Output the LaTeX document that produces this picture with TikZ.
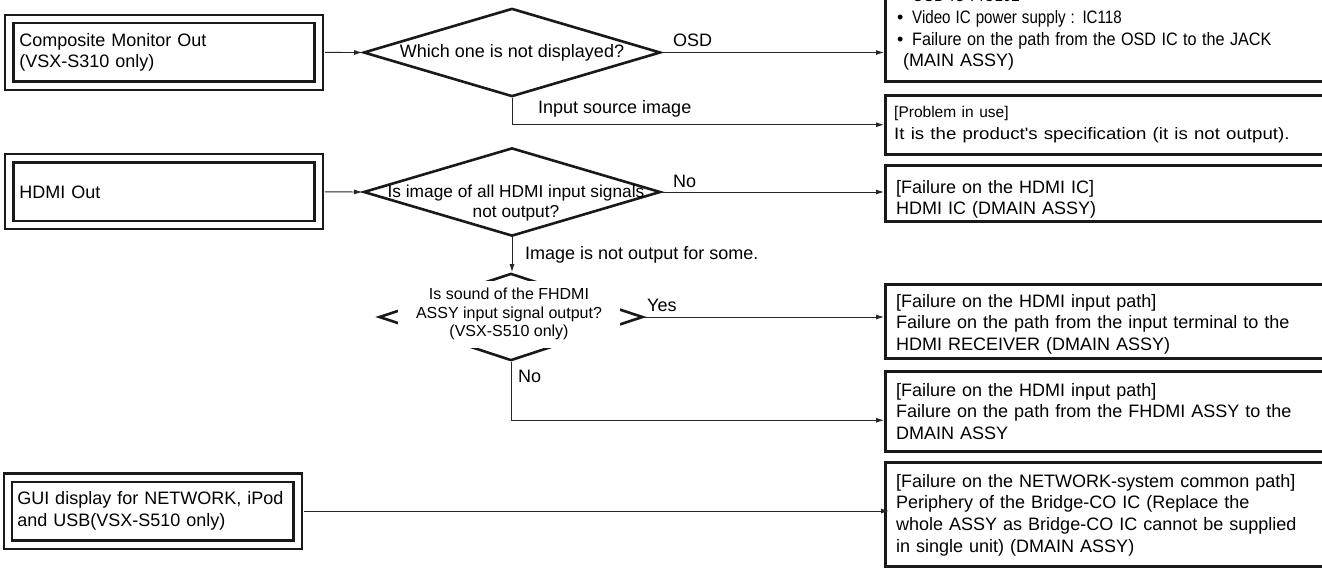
\documentclass[tikz,border=0pt]{standalone}
\usepackage{fontspec}
\setmainfont{Liberation Sans}
\usepackage{graphicx}
\usetikzlibrary{arrows.meta,shapes.geometric,calc}
\newcommand\hsc[2]{\scalebox{#1}[1]{#2}}
\newcommand\bul{\makebox[15pt][l]{\textbullet}}
\tikzset{
  conn/.style={draw=black!85, line width=0.9pt},
  arr/.style={conn, -{Latex[length=8pt,width=5pt]}},
  startbox/.style={draw=black!90, double=white, double distance=6pt, line width=2.2pt,
    rectangle, inner sep=0pt, inner xsep=10pt, align=left,
    font=\fontsize{18}{21.5}\selectfont},
  dia/.style={diamond, draw=black!90, line width=2.6pt, inner sep=0pt},
  diatext/.style={align=center, inner sep=0pt},
  resbox/.style={draw=black!90, line width=2.5pt, rectangle, inner sep=0pt, anchor=north west, minimum width=470pt},
  restext/.style={anchor=north west, inner sep=0pt, text width=440pt, align=left,
    font=\fontsize{18}{21.7}\selectfont},
  lbl/.style={anchor=base west, inner sep=0pt, font=\fontsize{18}{21.5}\selectfont},
}
\begin{document}
\begin{tikzpicture}[x=1pt,y=-1pt]
\useasboundingbox (0,0) rectangle (1322,571);
\fill[white] (0,0) rectangle (1322,571);
\begin{scope}
\clip (0,0) rectangle (1322,571);

% start boxes
\node[startbox, minimum width=309.3pt, minimum height=66.5pt, text width=289.3pt] (s1) at (164,52.4) {Composite Monitor Out\\(VSX-S310 only)};
\node[startbox, minimum width=309.3pt, minimum height=66.7pt, text width=289.3pt] (s2) at (164,191.8) {HDMI Out};
\node[startbox, inner xsep=9pt, minimum width=289.3pt, minimum height=67pt, text width=271.3pt] (s3) at (152.9,511) {GUI display for NETWORK, iPod\\and USB(VSX-S510 only)};

% diamonds
\node[dia, minimum width=297pt, minimum height=88.3pt] (d1) at (512,52.5) {};
\node[diatext, font=\fontsize{18}{21.5}\selectfont] (d1t) at (512,52.5) {Which one is not displayed?};
\node[dia, minimum width=297pt, minimum height=88.3pt] (d2) at (512,192) {};
\node[diatext, font=\fontsize{17.3}{20}\selectfont] (d2t) at (516,203.5) {Is image of all HDMI input signals\\not output?};
\node[dia, minimum width=264pt, minimum height=87.3pt] (d3) at (511,317) {};
\node[diatext, fill=white, minimum width=222pt, minimum height=67pt, font=\fontsize{16}{18.5}\selectfont] (d3t) at (509,314) {Is sound of the FHDMI\\ASSY input signal output?\\(VSX-S510 only)};

% result boxes
\node[resbox, minimum height=100pt] (r1) at (884,-20) {};
\node[resbox, minimum height=59pt] (r2) at (884,94) {};
\node[resbox, minimum height=56pt] (r3) at (884,164) {};
\node[resbox, minimum height=74pt] (r4) at (884,283) {};
\node[resbox, minimum height=80pt] (r5) at (884,370) {};
\node[resbox, minimum height=104pt] (r6) at (884,461) {};

\node[restext] (t1) at (897,-11) {\bul\hsc{0.84}{OSD IC : IC102}\\\bul\hsc{0.84}{Video IC power supply : IC118}\\\bul\hsc{0.9}{Failure on the path from the OSD IC to the JACK}\\\hspace*{6pt}(MAIN ASSY)};
\node[restext, font=\fontsize{16.5}{22}\selectfont] (t2) at (894,105.7) {{\fontsize{15.5}{22}\selectfont [Problem in use]}\\\hsc{1.13}{It is the product\textquotesingle s specification (it is not output).}};
\node[restext] (t3) at (896,180) {[Failure on the HDMI IC]\\HDMI IC (DMAIN ASSY)};
\node[restext] (t4) at (896,294) {[Failure on the HDMI input path]\\Failure on the path from the input terminal to the\\HDMI RECEIVER (DMAIN ASSY)};
\node[restext] (t5) at (896,383) {[Failure on the HDMI input path]\\Failure on the path from the FHDMI ASSY to the\\DMAIN ASSY};
\node[restext] (t6) at (896,474) {[Failure on the NETWORK-system common path]\\Periphery of the Bridge-CO IC (Replace the\\whole ASSY as Bridge-CO IC cannot be supplied\\in single unit) (DMAIN ASSY)};

% labels
\node[lbl] (lOSD) at (673,46) {OSD};
\node[lbl] (lISI) at (538,113) {Input source image};
\node[lbl] (lNo1) at (673,187) {No};
\node[lbl] (lImg) at (525,259) {Image is not output for some.};
\node[lbl] (lYes) at (647,311) {Yes};
\node[lbl] (lNo2) at (518,382) {No};

% connectors
\draw[arr] ([xshift=5pt]s1.east) -- (d1.west);
\draw[arr] (d1.east) -- (d1.east -| r1.west);
\draw[arr] (d1.south) |- (r2.west);
\draw[arr] ([xshift=5pt]s2.east) -- (d2.west);
\draw[arr] (d2.east) -- (d2.east -| r3.west);
\draw[arr] (d2.south) -- (d2.south |- d3.north);
\draw[arr] (d3.east) -- (d3.east -| r4.west);
\draw[arr] (d3.south) |- ([yshift=-9pt]r5.west);
\draw[arr] ([xshift=5pt]s3.east) -- ([xshift=5pt]s3.east -| r6.west);
\end{scope}
\end{tikzpicture}
\end{document}
